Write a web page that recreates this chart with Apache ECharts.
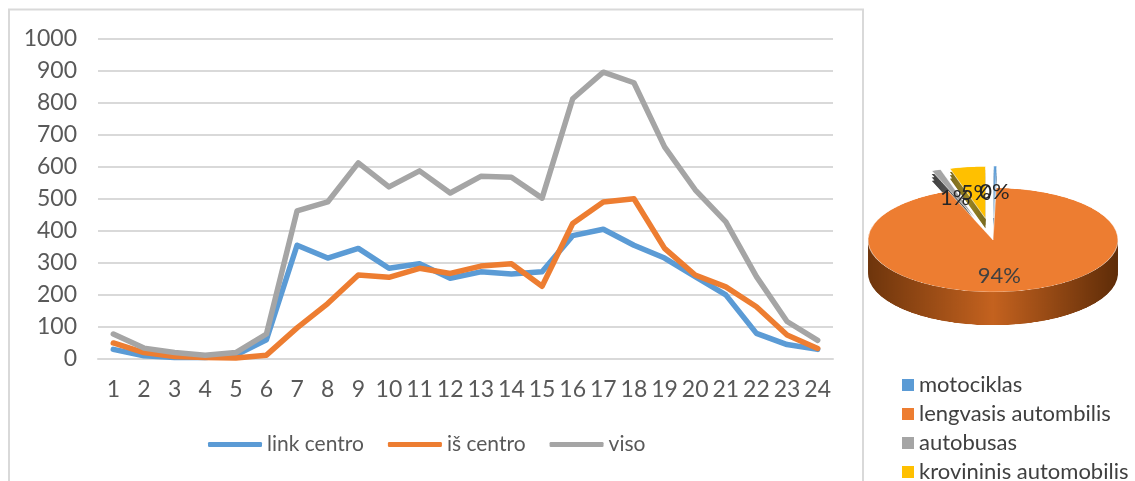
<!DOCTYPE html>
<html>
<head>
<meta charset="utf-8">
<script src="https://cdn.jsdelivr.net/npm/echarts@6/dist/echarts.min.js"></script>
<style>
  html, body { margin: 0; padding: 0; background: #ffffff; }
  #wrap { position: relative; width: 1135px; height: 481px; overflow: hidden; background: #fff; }
  #pie { position: absolute; left: 858px; top: 165px; width: 270px; height: 392px; transform: scaleY(0.416); transform-origin: 0 0; }
  #main { position: absolute; left: 0; top: 0; width: 1135px; height: 500px; }
</style>
</head>
<body>
<div id="wrap">
  <div id="pie"></div>
  <div id="main"></div>
</div>
<script>
// ---- data ----
const hours = ['1','2','3','4','5','6','7','8','9','10','11','12','13','14','15','16','17','18','19','20','21','22','23','24'];
const lineNames = ['link centro', 'iš centro', 'viso'];
const linkCentro = [30, 10, 5, 5, 12, 60, 355, 315, 345, 283, 297, 252, 272, 265, 272, 385, 405, 355, 315, 257, 200, 80, 45, 30];
const isCentro  = [50, 20, 8, 5, 3, 12, 97, 173, 262, 255, 283, 267, 290, 297, 227, 423, 490, 500, 345, 262, 225, 163, 75, 33];
const viso      = [78, 34, 20, 12, 20, 78, 462, 490, 612, 537, 587, 518, 570, 567, 502, 812, 895, 862, 662, 528, 428, 257, 117, 58];
const yTicks = [0, 1000, 100]; // min, max, step

const vehicleTypes = ['motociklas', 'lengvasis autombilis', 'autobusas', 'krovininis automobilis'];
const vehicleShares = [0.4, 93.8, 1.2, 4.6];
const explodedTypes = ['motociklas', 'autobusas', 'krovininis automobilis'];

// ---- styles ----
const lineColors = ['#5B9BD5', '#ED7D31', '#A5A5A5'];
const pieTop = ['#5B9BD5', '#ED7D31', '#A5A5A5', '#FFC000'];
const pieSide = [
  ['#2f5f8a', '#4a82b8', '#2f5f8a'],
  ['#6e350c', '#c4621f', '#5e2c08'],
  ['#3f3f3f', '#5a5a5a', '#3f3f3f'],
  ['#7a6a20', '#9a8420', '#7a6a20']
];
const FONT = 'Lato';

// ---- 3D-ish pie (flattened container) ----
const pieChart = echarts.init(document.getElementById('pie'), null, { renderer: 'canvas' });
const pieCenterX = 135, pieCenterY = 180, pieR = 125, depthSteps = 10, depthStep = 8, explodedDepthSteps = 3;
function pieData(colorFn, k) {
  return vehicleTypes.map((n, i) => {
    const exploded = explodedTypes.indexOf(n) >= 0;
    const hidden = k !== undefined && exploded && k > explodedDepthSteps;
    return {
      name: n,
      value: vehicleShares[i],
      selected: exploded,
      itemStyle: { color: hidden ? 'rgba(0,0,0,0)' : colorFn(i) }
    };
  });
}
const pieSeries = [];
for (let k = depthSteps; k >= 1; k--) {
  pieSeries.push({
    type: 'pie', z: 1, silent: true, animation: false,
    center: [pieCenterX, pieCenterY + k * depthStep], radius: pieR,
    startAngle: 90, clockwise: true,
    selectedMode: 'multiple', selectedOffset: 52,
    label: { show: false }, labelLine: { show: false },
    data: pieData(i => new echarts.graphic.LinearGradient(0, 0, 1, 0, [
      { offset: 0, color: pieSide[i][0] },
      { offset: 0.5, color: pieSide[i][1] },
      { offset: 1, color: pieSide[i][2] }
    ]), k)
  });
}
pieSeries.push({
  type: 'pie', z: 3, silent: true, animation: false,
  center: [pieCenterX, pieCenterY], radius: pieR,
  startAngle: 90, clockwise: true,
  selectedMode: 'multiple', selectedOffset: 52,
  label: { show: false }, labelLine: { show: false },
  itemStyle: { borderColor: 'rgba(255,255,255,0.6)', borderWidth: 1 },
  data: pieData(i => pieTop[i])
});
pieChart.setOption({ animation: false, series: pieSeries });

// ---- main chart: lines, labels overlay, legends ----
const main = echarts.init(document.getElementById('main'), null, { renderer: 'canvas' });
const lineData = [linkCentro, isCentro, viso];

function labelData(showFn) {
  return vehicleTypes.map((n, i) => ({
    name: n,
    value: vehicleShares[i],
    label: { show: showFn(n) }
  }));
}

main.setOption({
  animation: false,
  backgroundColor: 'transparent',
  textStyle: { fontFamily: FONT },
  graphic: [{
    type: 'rect', silent: true, z: 0,
    shape: { x: 9, y: 9.5, width: 854, height: 490 },
    style: { fill: 'none', stroke: '#d9d9d9', lineWidth: 2 }
  }],
  grid: { left: 98, right: 302, top: 38.5, bottom: 141, containLabel: false },
  xAxis: {
    type: 'category', data: hours, boundaryGap: true,
    axisLine: { show: true, lineStyle: { color: '#d9d9d9', width: 2 } },
    axisTick: { show: false },
    axisLabel: { color: '#595959', fontSize: 23, fontFamily: FONT, margin: 19, interval: 0 }
  },
  yAxis: {
    type: 'value', min: yTicks[0], max: yTicks[1], interval: yTicks[2],
    axisLine: { show: false }, axisTick: { show: false },
    axisLabel: { color: '#595959', fontSize: 23, fontFamily: FONT, margin: 21, formatter: v => String(v) },
    splitLine: { lineStyle: { color: '#d9d9d9', width: 2 } }
  },
  legend: [{
    data: lineNames, left: 203, top: 429,
    icon: 'roundRect', itemWidth: 54, itemHeight: 5, itemGap: 24,
    textStyle: { color: '#595959', fontSize: 21, fontFamily: FONT },
    selectedMode: false
  }, {
    data: vehicleTypes.map((n, i) => ({ name: n, itemStyle: { color: pieTop[i] } })),
    orient: 'vertical', left: 897, top: 369,
    icon: 'rect', itemWidth: 12, itemHeight: 12, itemGap: 7,
    textStyle: { color: '#404040', fontSize: 22, fontFamily: FONT },
    selectedMode: false
  }],
  series: lineNames.map((n, i) => ({
    name: n, type: 'line', data: lineData[i],
    symbol: 'none', smooth: false,
    lineStyle: { color: lineColors[i], width: 5.5, cap: 'round', join: 'round' },
    itemStyle: { color: lineColors[i] },
    z: 2 + i
  })).concat([{
    type: 'pie', silent: true, center: [993, 238], radius: [0, 70],
    startAngle: 90, clockwise: true, percentPrecision: 0,
    itemStyle: { color: 'transparent' },
    label: { position: 'inside', formatter: '{d}%', color: '#404040', fontSize: 22, fontFamily: FONT },
    labelLine: { show: false }, labelLayout: { hideOverlap: false },
    legendHoverLink: false,
    data: labelData(n => explodedTypes.indexOf(n) < 0)
  }, {
    type: 'pie', silent: true, center: [993, 310], radius: [0, 230],
    startAngle: 90, clockwise: true, percentPrecision: 0,
    itemStyle: { color: 'transparent' },
    label: { position: 'inside', formatter: '{d}%', color: '#262626', fontSize: 22, fontFamily: FONT },
    labelLine: { show: false }, labelLayout: { hideOverlap: false },
    legendHoverLink: false,
    data: labelData(n => explodedTypes.indexOf(n) >= 0)
  }])
});
</script>
</body>
</html>
